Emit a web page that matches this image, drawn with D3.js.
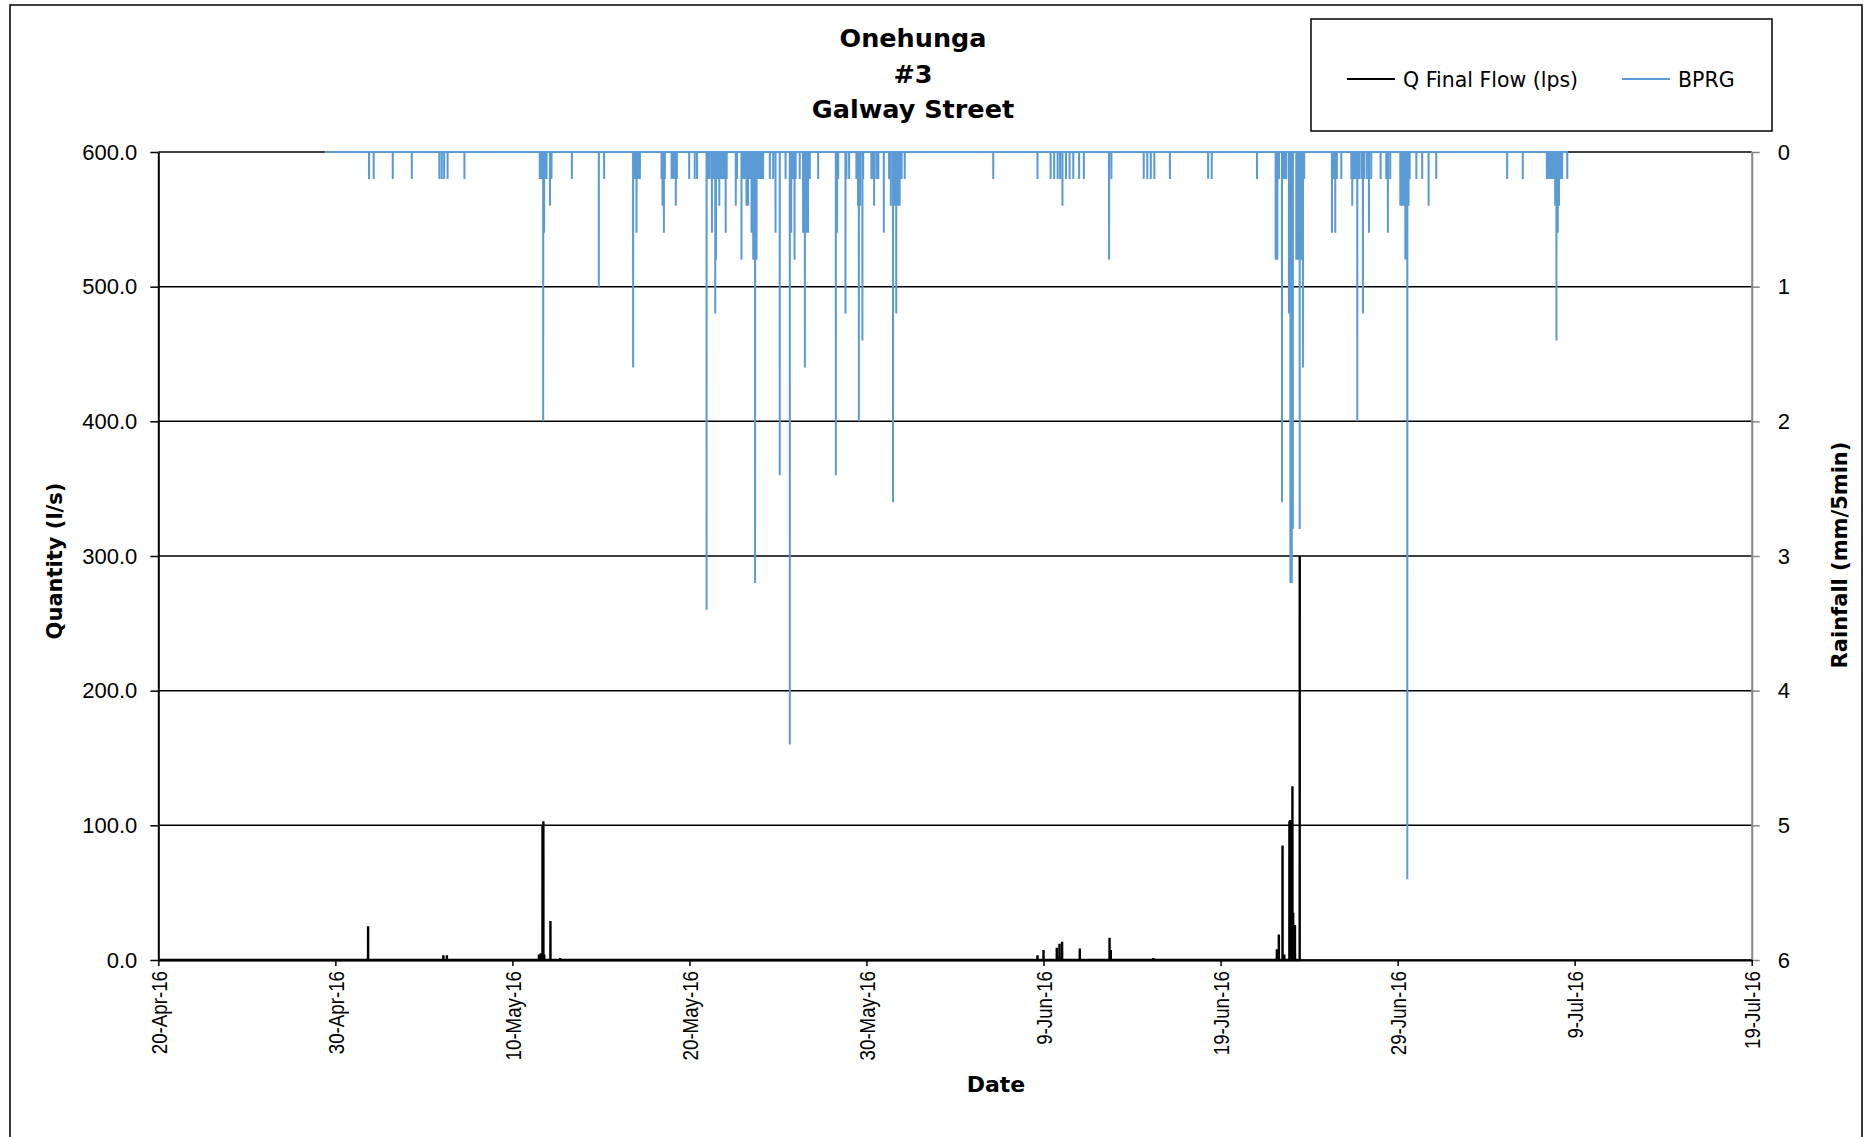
<!DOCTYPE html>
<html>
<head>
<meta charset="utf-8">
<script src="https://cdn.jsdelivr.net/npm/d3@7"></script>
<style>
  body { margin: 0; background: #fff; }
  svg { display: block; }
</style>
</head>
<body>
<div id="chart"></div>
<script>
// ---- data ----
const titleLines = ["Onehunga", "#3", "Galway Street"];
const seriesNames = ["Q Final Flow (lps)", "BPRG"];
const dateTicks = ["2016-04-20", "2016-04-30", "2016-05-10", "2016-05-20", "2016-05-30",
                   "2016-06-09", "2016-06-19", "2016-06-29", "2016-07-09", "2016-07-19"];
const flowTicks = [0, 100, 200, 300, 400, 500, 600];
const rainTicks = [0, 1, 2, 3, 4, 5, 6];

// period each logger has a record for (zero outside the listed readings)
const flowRecord = ["2016-04-20 00:00", "2016-06-23 11:20"];
const rainRecord = ["2016-04-29 09:40", "2016-07-08 14:30"];

// non-zero flow readings, l/s
const flow = [
  ["2016-05-01 20:25", 25], ["2016-05-06 02:25", 3.5], ["2016-05-06 07:10", 3.5],
  ["2016-05-11 12:00", 4], ["2016-05-11 14:25", 5], ["2016-05-11 16:50", 100],
  ["2016-05-11 18:00", 103], ["2016-05-11 19:10", 4], ["2016-05-12 03:35", 29],
  ["2016-05-12 16:50", 1.5], ["2016-06-08 15:50", 3.5], ["2016-06-09 00:00", 7.4],
  ["2016-06-09 18:00", 9], ["2016-06-09 21:35", 12], ["2016-06-10 01:10", 13.5],
  ["2016-06-11 01:10", 8.5], ["2016-06-12 17:30", 16.5], ["2016-06-12 19:10", 7.5],
  ["2016-06-15 04:50", 1.5], ["2016-06-22 04:20", 8], ["2016-06-22 07:00", 19],
  ["2016-06-22 12:00", 85], ["2016-06-22 14:25", 4], ["2016-06-22 21:20", 103],
  ["2016-06-22 22:20", 104], ["2016-06-23 01:25", 129], ["2016-06-23 02:25", 35],
  ["2016-06-23 04:50", 26], ["2016-06-23 11:20", 300]
];

// non-zero 5 minute rainfall tips, mm
const rainfall = [
  ["2016-05-01 21:40", 0.2], ["2016-05-02 04:00", 0.2], ["2016-05-03 05:50", 0.2],
  ["2016-05-04 07:40", 0.2], ["2016-05-05 21:00", 0.2], ["2016-05-06 00:15", 0.2],
  ["2016-05-06 03:30", 0.2], ["2016-05-06 08:10", 0.2], ["2016-05-07 07:00", 0.2],
  ["2016-05-11 13:10", 0.2], ["2016-05-11 15:30", 0.2], ["2016-05-11 17:45", 2.0],
  ["2016-05-11 19:00", 0.6], ["2016-05-11 20:30", 0.2], ["2016-05-11 22:20", 0.2],
  ["2016-05-12 03:00", 0.4], ["2016-05-12 05:00", 0.2], ["2016-05-13 08:40", 0.2],
  ["2016-05-14 21:10", 1.0], ["2016-05-15 04:20", 0.2], ["2016-05-16 19:40", 1.6],
  ["2016-05-16 22:10", 0.2], ["2016-05-17 00:15", 0.6], ["2016-05-17 02:30", 0.2],
  ["2016-05-17 04:50", 0.2], ["2016-05-18 10:10", 0.2], ["2016-05-18 11:30", 0.4],
  ["2016-05-18 13:20", 0.6], ["2016-05-18 14:40", 0.2], ["2016-05-18 23:50", 0.2],
  ["2016-05-19 02:00", 0.2], ["2016-05-19 04:20", 0.2], ["2016-05-19 05:30", 0.4],
  ["2016-05-19 07:00", 0.2], ["2016-05-19 23:40", 0.2], ["2016-05-20 07:10", 0.2],
  ["2016-05-20 10:20", 0.2], ["2016-05-20 23:15", 3.4], ["2016-05-21 01:00", 0.2],
  ["2016-05-21 03:30", 0.2], ["2016-05-21 06:30", 0.6], ["2016-05-21 08:30", 0.2],
  ["2016-05-21 11:00", 1.2], ["2016-05-21 12:00", 0.8], ["2016-05-21 14:00", 0.2],
  ["2016-05-21 16:30", 0.4], ["2016-05-21 19:00", 0.2], ["2016-05-21 21:30", 0.2],
  ["2016-05-22 00:00", 0.2], ["2016-05-22 01:10", 0.6], ["2016-05-22 02:30", 0.2],
  ["2016-05-22 14:50", 0.4], ["2016-05-22 16:30", 0.2], ["2016-05-22 22:35", 0.8],
  ["2016-05-23 01:00", 0.2], ["2016-05-23 03:00", 0.2], ["2016-05-23 05:20", 0.4],
  ["2016-05-23 07:30", 0.4], ["2016-05-23 09:50", 0.2], ["2016-05-23 12:10", 0.6],
  ["2016-05-23 14:30", 0.8], ["2016-05-23 17:00", 3.2], ["2016-05-23 19:00", 0.8],
  ["2016-05-23 21:00", 0.2], ["2016-05-23 23:30", 0.2], ["2016-05-24 02:00", 0.2],
  ["2016-05-24 03:50", 0.2], ["2016-05-24 13:00", 0.2], ["2016-05-24 17:30", 0.2],
  ["2016-05-24 20:40", 0.6], ["2016-05-25 02:25", 2.4], ["2016-05-25 10:20", 0.2],
  ["2016-05-25 16:05", 4.4], ["2016-05-25 18:00", 0.6], ["2016-05-25 20:00", 0.2],
  ["2016-05-25 22:30", 0.8], ["2016-05-26 00:00", 0.2], ["2016-05-26 05:30", 0.2],
  ["2016-05-26 10:05", 0.6], ["2016-05-26 12:30", 1.6], ["2016-05-26 14:40", 0.6],
  ["2016-05-26 16:50", 0.6], ["2016-05-26 19:10", 0.2], ["2016-05-27 06:30", 0.2],
  ["2016-05-28 06:30", 2.4], ["2016-05-28 08:10", 0.6], ["2016-05-28 09:40", 0.2],
  ["2016-05-28 19:30", 1.2], ["2016-05-28 20:50", 0.2], ["2016-05-29 00:30", 0.2],
  ["2016-05-29 10:20", 0.2], ["2016-05-29 12:30", 0.4], ["2016-05-29 13:40", 2.0],
  ["2016-05-29 15:20", 0.4], ["2016-05-29 18:30", 1.4], ["2016-05-29 19:30", 0.2],
  ["2016-05-30 06:40", 0.2], ["2016-05-30 09:00", 0.2], ["2016-05-30 10:20", 0.4],
  ["2016-05-30 13:30", 0.2], ["2016-05-30 16:05", 0.2], ["2016-05-30 23:30", 0.6],
  ["2016-05-31 06:40", 0.2], ["2016-05-31 09:00", 0.4], ["2016-05-31 12:00", 2.6],
  ["2016-05-31 14:00", 0.4], ["2016-05-31 16:20", 1.2], ["2016-05-31 18:30", 0.4],
  ["2016-05-31 21:00", 0.4], ["2016-05-31 23:40", 0.2], ["2016-06-01 03:50", 0.2],
  ["2016-06-06 03:50", 0.2], ["2016-06-08 15:50", 0.2], ["2016-06-09 09:40", 0.2],
  ["2016-06-09 14:25", 0.2], ["2016-06-09 19:10", 0.2], ["2016-06-09 22:30", 0.2],
  ["2016-06-10 01:40", 0.4], ["2016-06-10 06:30", 0.2], ["2016-06-10 11:20", 0.2],
  ["2016-06-10 16:20", 0.2], ["2016-06-11 00:15", 0.2], ["2016-06-11 06:40", 0.2],
  ["2016-06-12 16:50", 0.8], ["2016-06-12 20:00", 0.2], ["2016-06-14 15:50", 0.2],
  ["2016-06-14 20:40", 0.2], ["2016-06-15 01:25", 0.2], ["2016-06-15 06:15", 0.2],
  ["2016-06-16 03:20", 0.2], ["2016-06-18 07:10", 0.2], ["2016-06-18 12:00", 0.2],
  ["2016-06-21 01:25", 0.2], ["2016-06-22 02:40", 0.8], ["2016-06-22 05:00", 0.8],
  ["2016-06-22 07:10", 0.2], ["2016-06-22 11:15", 2.6], ["2016-06-22 12:30", 0.2],
  ["2016-06-22 15:00", 0.2], ["2016-06-22 17:00", 0.2], ["2016-06-22 20:40", 1.2],
  ["2016-06-22 22:40", 3.2], ["2016-06-23 00:30", 3.2], ["2016-06-23 02:00", 2.8],
  ["2016-06-23 06:40", 0.8], ["2016-06-23 08:50", 0.8], ["2016-06-23 11:15", 2.8],
  ["2016-06-23 13:30", 0.8], ["2016-06-23 15:40", 1.6], ["2016-06-23 17:20", 0.2],
  ["2016-06-25 07:00", 0.6], ["2016-06-25 09:40", 0.2], ["2016-06-25 11:30", 0.6],
  ["2016-06-25 13:40", 0.2], ["2016-06-25 19:40", 0.2], ["2016-06-26 09:20", 0.2],
  ["2016-06-26 10:30", 0.4], ["2016-06-26 12:30", 0.2], ["2016-06-26 14:40", 0.2],
  ["2016-06-26 17:20", 2.0], ["2016-06-26 19:40", 0.2], ["2016-06-26 22:50", 0.2],
  ["2016-06-27 01:00", 1.2], ["2016-06-27 02:40", 0.2], ["2016-06-27 06:15", 0.2],
  ["2016-06-27 09:10", 0.6], ["2016-06-27 12:15", 0.2], ["2016-06-28 01:00", 0.2],
  ["2016-06-28 08:40", 0.2], ["2016-06-28 10:50", 0.6], ["2016-06-28 14:00", 0.2],
  ["2016-06-29 03:40", 0.4], ["2016-06-29 06:00", 0.4], ["2016-06-29 08:10", 0.4],
  ["2016-06-29 10:30", 0.8], ["2016-06-29 13:10", 5.4], ["2016-06-29 14:50", 0.4],
  ["2016-06-29 16:20", 0.2], ["2016-06-30 01:25", 0.2], ["2016-06-30 09:20", 0.2],
  ["2016-06-30 18:00", 0.4], ["2016-07-01 04:20", 0.2], ["2016-07-05 04:30", 0.2],
  ["2016-07-06 01:40", 0.2], ["2016-07-07 10:20", 0.2], ["2016-07-07 12:40", 0.2],
  ["2016-07-07 14:50", 0.2], ["2016-07-07 17:00", 0.2], ["2016-07-07 19:25", 0.2],
  ["2016-07-07 21:35", 0.4], ["2016-07-07 23:20", 1.4], ["2016-07-08 01:10", 0.6],
  ["2016-07-08 02:50", 0.4], ["2016-07-08 05:00", 0.2], ["2016-07-08 07:00", 0.2],
  ["2016-07-08 14:00", 0.2]
];

// ---- layout ----
const W = 1872, H = 1137;
const plot = { left: 158.3, right: 1751.7, top: 152, bottom: 960 };
const flowColor = "#000000", rainColor = "#5b9bd5";
const sans = "'Liberation Sans', Arial, sans-serif";
const wide = "'DejaVu Sans', Verdana, sans-serif";

const parseDay = d3.timeParse("%Y-%m-%d");
const parseTime = d3.timeParse("%Y-%m-%d %H:%M");

const svg = d3.select("#chart").append("svg")
    .attr("width", W)
    .attr("height", H);

svg.append("rect")
    .attr("x", 0).attr("y", 0).attr("width", W).attr("height", H)
    .attr("fill", "#fff");

// outer chart frame
svg.append("rect")
    .attr("x", 10).attr("y", 5)
    .attr("width", 1852).attr("height", 1160)
    .attr("fill", "none")
    .attr("stroke", "#000")
    .attr("stroke-width", 1.5);

const x = d3.scaleTime()
    .domain([parseDay(dateTicks[0]), parseDay(dateTicks[dateTicks.length - 1])])
    .range([plot.left, plot.right]);

const yFlow = d3.scaleLinear()
    .domain([0, 600])
    .range([plot.bottom, plot.top]);

const yRain = d3.scaleLinear()
    .domain([0, 6])
    .range([plot.top, plot.bottom]);

// a reading series: zero baseline over the record, with each reading as a 5 min spike
function spikeSeries(record, readings) {
    const start = parseTime(record[0]);
    const end = parseTime(record[1]);
    const pts = [[start, 0]];
    readings.forEach(([t, v]) => {
        const d = parseTime(t);
        pts.push([d3.timeMinute.offset(d, -5), 0], [d, v]);
        if (d < end) pts.push([d3.timeMinute.offset(d, 5), 0]);
    });
    if (end > pts[pts.length - 1][0]) pts.push([end, 0]);
    return pts;
}

// gridlines
svg.append("g")
    .selectAll("line")
    .data(flowTicks)
    .join("line")
    .attr("x1", plot.left)
    .attr("x2", plot.right)
    .attr("y1", d => yFlow(d))
    .attr("y2", d => yFlow(d))
    .attr("stroke", "#000")
    .attr("stroke-width", 1.5);

// left axis
const gLeft = svg.append("g")
    .attr("transform", `translate(${plot.left},0)`)
    .call(d3.axisLeft(yFlow).tickValues(flowTicks).tickFormat(d3.format(".1f"))
        .tickSize(8).tickSizeOuter(0).tickPadding(13));
gLeft.select(".domain").attr("stroke", "#000").attr("stroke-width", 2);
gLeft.selectAll(".tick line").attr("stroke", "#000").attr("stroke-width", 1.5);
gLeft.selectAll(".tick text")
    .attr("font-family", sans).attr("font-size", 22).attr("fill", "#000");

// right axis
const gRight = svg.append("g")
    .attr("transform", `translate(${plot.right},0)`)
    .call(d3.axisRight(yRain).tickValues(rainTicks).tickFormat(d3.format("d"))
        .tickSize(8).tickSizeOuter(0).tickPadding(18));
gRight.select(".domain").attr("stroke", "#868686").attr("stroke-width", 2);
gRight.selectAll(".tick line").attr("stroke", "#868686").attr("stroke-width", 1.5);
gRight.selectAll(".tick text")
    .attr("font-family", sans).attr("font-size", 22).attr("fill", "#000");

// bottom axis
const gBottom = svg.append("g")
    .attr("transform", `translate(0,${plot.bottom})`)
    .call(d3.axisBottom(x).tickValues(dateTicks.map(parseDay))
        .tickFormat(d3.timeFormat("%-d-%b-%y"))
        .tickSize(6).tickSizeOuter(0));
gBottom.select(".domain").attr("stroke", "#000").attr("stroke-width", 2);
gBottom.selectAll(".tick line").attr("stroke", "#000").attr("stroke-width", 1.5);
gBottom.selectAll(".tick text")
    .attr("font-family", sans).attr("font-size", 22).attr("fill", "#000")
    .attr("text-anchor", "end")
    .attr("transform", "rotate(-90) scale(0.85,1)")
    .attr("x", -13)
    .attr("y", 8)
    .attr("dy", 0);

// series
const line = scaleY => d3.line()
    .x(d => x(d[0]))
    .y(d => scaleY(d[1]));

svg.append("path")
    .datum(spikeSeries(flowRecord, flow))
    .attr("fill", "none")
    .attr("stroke", flowColor)
    .attr("stroke-width", 2.4)
    .attr("stroke-linejoin", "bevel")
    .attr("d", line(yFlow));

svg.append("path")
    .datum(spikeSeries(rainRecord, rainfall))
    .attr("fill", "none")
    .attr("stroke", rainColor)
    .attr("stroke-width", 2)
    .attr("stroke-linejoin", "bevel")
    .attr("d", line(yRain));

// title
svg.append("g")
    .selectAll("text")
    .data(titleLines)
    .join("text")
    .attr("x", 913)
    .attr("y", (d, i) => 47 + i * 35.5)
    .attr("text-anchor", "middle")
    .attr("font-family", wide)
    .attr("font-weight", "bold")
    .attr("font-size", 25.5)
    .text(d => d);

// axis titles
svg.append("text")
    .attr("x", 996).attr("y", 1092)
    .attr("text-anchor", "middle")
    .attr("font-family", wide).attr("font-weight", "bold").attr("font-size", 22)
    .text("Date");

svg.append("text")
    .attr("transform", "translate(62,561) rotate(-90)")
    .attr("text-anchor", "middle")
    .attr("font-family", wide).attr("font-weight", "bold").attr("font-size", 21)
    .text("Quantity (l/s)");

svg.append("text")
    .attr("transform", "translate(1847,555) rotate(-90)")
    .attr("text-anchor", "middle")
    .attr("font-family", wide).attr("font-weight", "bold").attr("font-size", 21)
    .text("Rainfall (mm/5min)");

// legend
const legend = svg.append("g");
legend.append("rect")
    .attr("x", 1311).attr("y", 19)
    .attr("width", 461).attr("height", 112)
    .attr("fill", "#fff")
    .attr("stroke", "#000")
    .attr("stroke-width", 1.5);

const legendItems = [
    { name: seriesNames[0], color: flowColor, x: 1347 },
    { name: seriesNames[1], color: rainColor, x: 1622 }
];
legendItems.forEach(item => {
    legend.append("line")
        .attr("x1", item.x).attr("x2", item.x + 48)
        .attr("y1", 79).attr("y2", 79)
        .attr("stroke", item.color)
        .attr("stroke-width", 2.2);
    legend.append("text")
        .attr("x", item.x + 56).attr("y", 87)
        .attr("font-family", wide).attr("font-size", 20.5)
        .text(item.name);
});
</script>
</body>
</html>
